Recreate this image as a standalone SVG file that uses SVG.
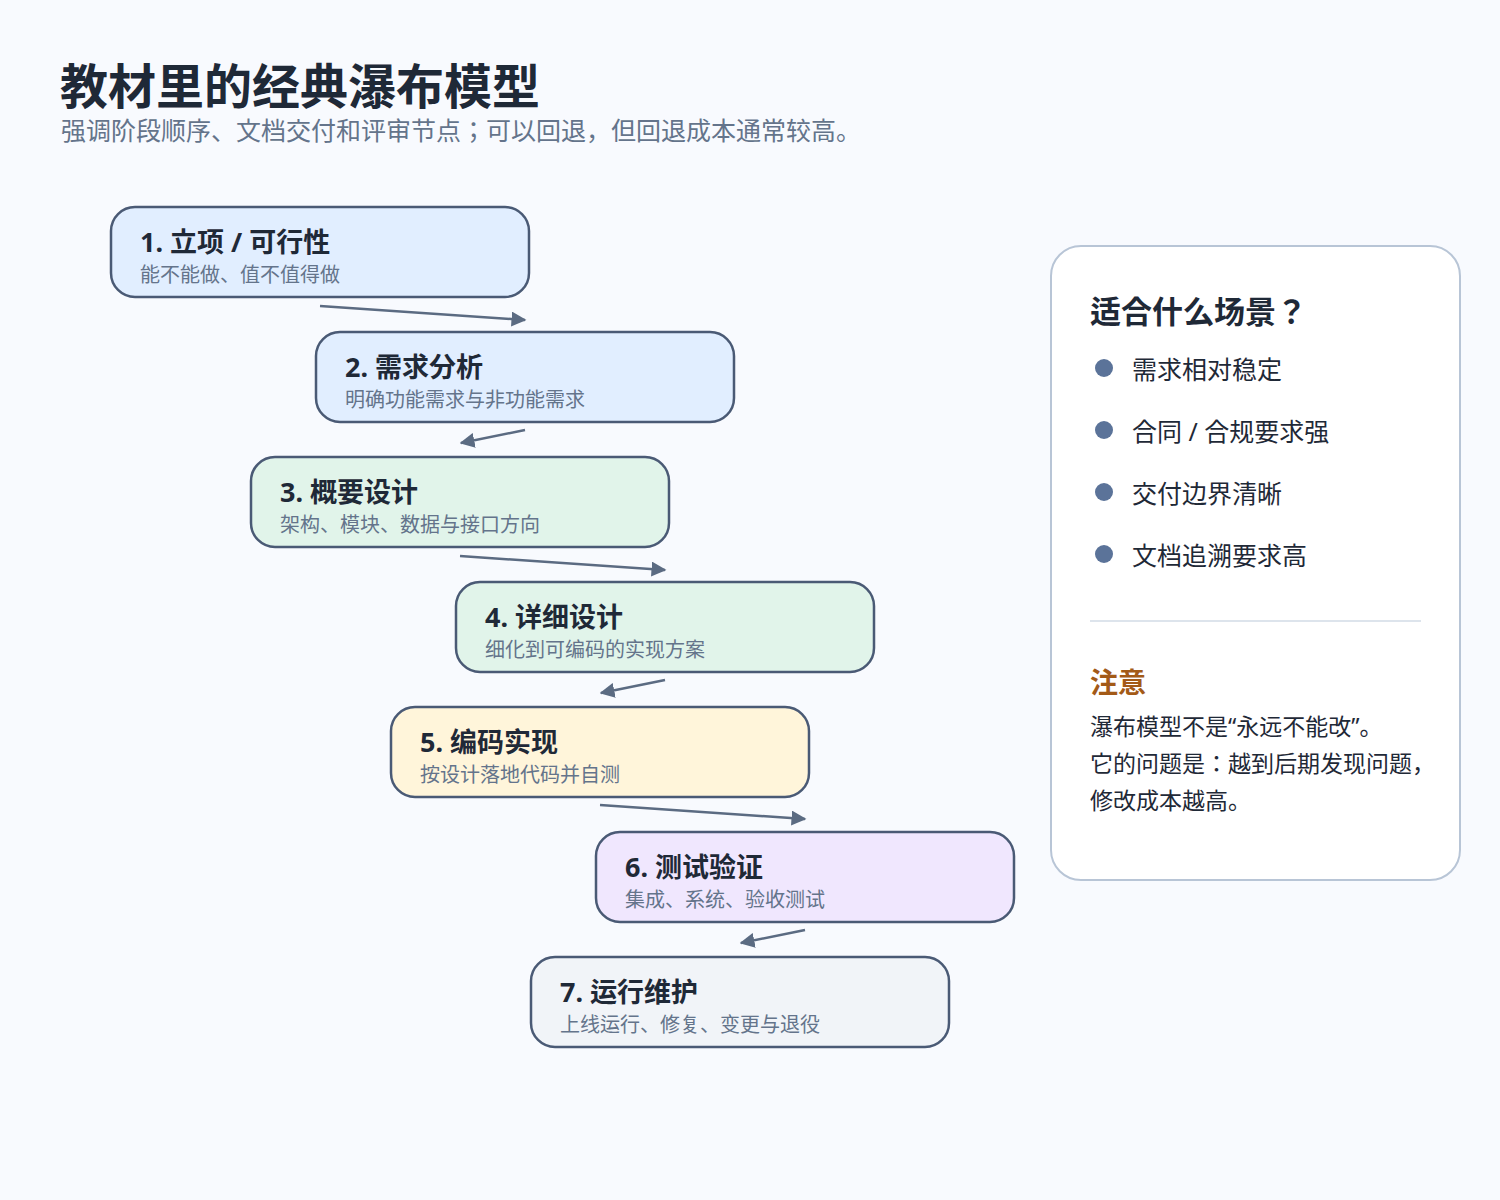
<svg xmlns="http://www.w3.org/2000/svg" width="1500" height="1200" viewBox="0 0 1500 1200">
<defs>
<style>
text{font-family:"Noto Sans","Noto Sans CJK JP",sans-serif;}
.box{stroke:#4a5a75;stroke-width:2.5;}
.t{font-size:27px;font-weight:700;fill:#1f2937;}
.s{font-size:20px;fill:#64748b;}
.c{stroke:#5b6b82;stroke-width:2.5;fill:none;marker-end:url(#ah);}
.li{font-size:25px;fill:#1f2937;}
.dot{fill:#5b7399;}
.n{font-size:23px;fill:#1f2937;}
</style>
<marker id="ah" viewBox="0 0 10 10" refX="9" refY="5" markerWidth="6" markerHeight="6" orient="auto" markerUnits="strokeWidth">
<path d="M0,0 L10,5 L0,10 z" fill="#5b6b82"/>
</marker>
</defs>
<rect width="1500" height="1200" fill="#f8fafe"/>
<text x="60" y="104" style="font-size:48px;font-weight:700;fill:#1f2937">教材里的经典瀑布模型</text>
<text x="61" y="140" style="font-size:25px;fill:#64748b">强调阶段顺序、文档交付和评审节点；可以回退，但回退成本通常较高。</text>
<g id="connectors">
<line class="c" x1="320" y1="306" x2="525" y2="320"/>
<line class="c" x1="525" y1="430" x2="461" y2="443"/>
<line class="c" x1="460" y1="556" x2="665" y2="570"/>
<line class="c" x1="665" y1="680" x2="601" y2="693"/>
<line class="c" x1="600" y1="805" x2="805" y2="819"/>
<line class="c" x1="805" y1="930" x2="741" y2="943"/>
</g>
<g id="n1"><rect class="box" x="111" y="207" width="418" height="90" rx="24" fill="#e1eeff"/><text class="t" x="140" y="252">1. 立项 / 可行性</text><text class="s" x="140" y="282">能不能做、值不值得做</text></g>
<g id="n2"><rect class="box" x="316" y="332" width="418" height="90" rx="24" fill="#e1eeff"/><text class="t" x="345" y="377">2. 需求分析</text><text class="s" x="345" y="407">明确功能需求与非功能需求</text></g>
<g id="n3"><rect class="box" x="251" y="457" width="418" height="90" rx="24" fill="#e1f4ea"/><text class="t" x="280" y="502">3. 概要设计</text><text class="s" x="280" y="532">架构、模块、数据与接口方向</text></g>
<g id="n4"><rect class="box" x="456" y="582" width="418" height="90" rx="24" fill="#e1f4ea"/><text class="t" x="485" y="627">4. 详细设计</text><text class="s" x="485" y="657">细化到可编码的实现方案</text></g>
<g id="n5"><rect class="box" x="391" y="707" width="418" height="90" rx="24" fill="#fff5da"/><text class="t" x="420" y="752">5. 编码实现</text><text class="s" x="420" y="782">按设计落地代码并自测</text></g>
<g id="n6"><rect class="box" x="596" y="832" width="418" height="90" rx="24" fill="#f0e7fe"/><text class="t" x="625" y="877">6. 测试验证</text><text class="s" x="625" y="907">集成、系统、验收测试</text></g>
<g id="n7"><rect class="box" x="531" y="957" width="418" height="90" rx="24" fill="#f1f4f8"/><text class="t" x="560" y="1002">7. 运行维护</text><text class="s" x="560" y="1032">上线运行、修复、变更与退役</text></g>
<g id="panel">
<rect x="1051" y="246" width="409" height="634" rx="30" fill="#ffffff" stroke="#b8c5d6" stroke-width="2"/>
<text x="1090" y="323" style="font-size:31px;font-weight:700;fill:#1f2937">适合什么场景？</text>
<circle class="dot" cx="1104" cy="368" r="9"/><text class="li" x="1132" y="379">需求相对稳定</text>
<circle class="dot" cx="1104" cy="430" r="9"/><text class="li" x="1132" y="441">合同 / 合规要求强</text>
<circle class="dot" cx="1104" cy="492" r="9"/><text class="li" x="1132" y="503">交付边界清晰</text>
<circle class="dot" cx="1104" cy="554" r="9"/><text class="li" x="1132" y="565">文档追溯要求高</text>
<line x1="1090" y1="621" x2="1421" y2="621" stroke="#dde4ec" stroke-width="2"/>
<text x="1090" y="693" style="font-size:28px;font-weight:700;fill:#a35a17">注意</text>
<text class="n" x="1090" y="735">瀑布模型不是“永远不能改”。</text>
<text class="n" x="1090" y="772">它的问题是：越到后期发现问题，</text>
<text class="n" x="1090" y="809">修改成本越高。</text>
</g>
</svg>
